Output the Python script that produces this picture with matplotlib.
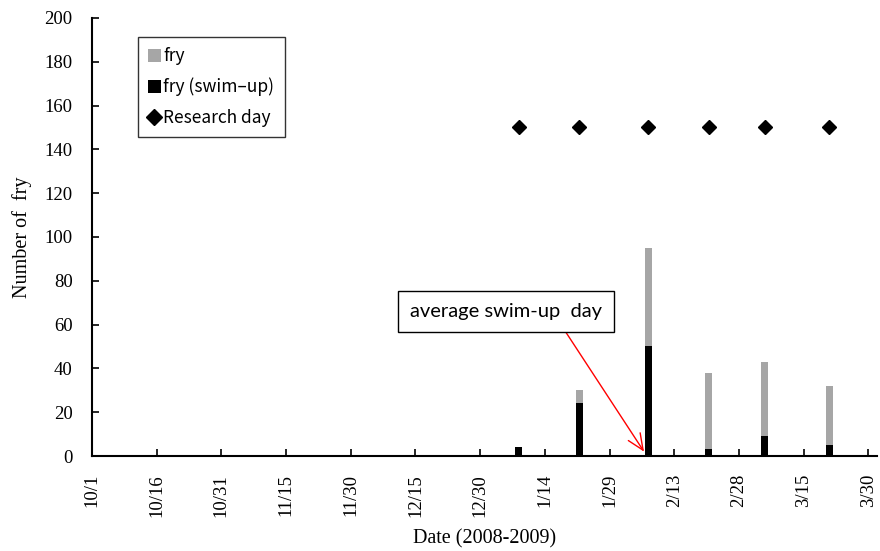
import numpy as np
import matplotlib
matplotlib.use("Agg")
import matplotlib.pyplot as plt
from matplotlib.lines import Line2D
from matplotlib.patches import Patch
import datetime as dt

# research days and counts
days = ["2009-01-08", "2009-01-22", "2009-02-07", "2009-02-21", "2009-03-06", "2009-03-21"]
swimup = [4, 24, 50, 3, 9, 5]
fry = [0, 6, 45, 35, 34, 27]
research = [150, 150, 150, 150, 150, 150]
tick_labels = ["10/1", "10/16", "10/31", "11/15", "11/30", "12/15", "12/30",
               "1/14", "1/29", "2/13", "2/28", "3/15", "3/30"]
arrow_day = "2009-02-06"

x = [dt.datetime.strptime(d, "%Y-%m-%d") for d in days]
start = dt.datetime(2008, 10, 1)
ticks = [start + dt.timedelta(days=15 * i) for i in range(len(tick_labels))]

serif = "Liberation Serif"
fig = plt.figure(figsize=(8.8, 5.51), dpi=100)
ax = fig.add_axes([0.1045, 0.1724, 0.892, 0.795])

w = 1.6
ax.bar(x, swimup, width=w, color="black", zorder=3)
ax.bar(x, fry, width=w, bottom=swimup, color="#a6a6a6", zorder=3)
ax.plot(x, research, "D", color="black", markersize=7.5, linestyle="None", zorder=4)

ax.set_xlim(start, start + dt.timedelta(days=182))
ax.set_ylim(0, 200)
ax.set_yticks(np.arange(0, 201, 20))
ax.set_xticks(ticks)
ax.set_xticklabels(tick_labels, rotation=90, fontfamily=serif, fontsize=13.5)
for lab in ax.get_yticklabels():
    lab.set_fontfamily(serif)
    lab.set_fontsize(13.5)
ax.tick_params(direction="in", length=5, width=1.2, colors="black")
ax.tick_params(axis="x", pad=13)
ax.tick_params(axis="y", pad=14)
for s in ["top", "right"]:
    ax.spines[s].set_visible(False)
for s in ["left", "bottom"]:
    ax.spines[s].set_linewidth(1.5)

ax.set_ylabel("Number of  fry", fontfamily=serif, fontsize=14.5, labelpad=9)
ax.set_xlabel("Date (2008-2009)", fontfamily=serif, fontsize=14.5, labelpad=9)

handles = [Patch(facecolor="#a6a6a6", label="fry"),
           Patch(facecolor="black", label="fry (swim\u2013up)"),
           Line2D([], [], marker="D", color="black", linestyle="None", markersize=8, label="Research day")]
leg = ax.legend(handles=handles, loc="upper left", bbox_to_anchor=(0.0586, 0.957),
                frameon=True, fancybox=False, edgecolor="black", handlelength=0.7,
                handleheight=0.8, handletextpad=0.15, labelspacing=0.72, borderpad=0.6,
                borderaxespad=0,
                prop={"family": ["Noto Sans CJK JP", "DejaVu Sans"], "size": 12.5})
leg.get_frame().set_linewidth(1.0)

ax.annotate("average swim-up  day",
            xy=(dt.datetime.strptime(arrow_day, "%Y-%m-%d"), 2),
            xytext=(dt.datetime(2009, 1, 5), 66),
            ha="center", va="center", fontsize=14.5, fontfamily="Lato",
            bbox=dict(boxstyle="square,pad=0.6", fc="white", ec="black", lw=1),
            arrowprops=dict(arrowstyle="->,head_length=0.8,head_width=0.35", color="red",
                            lw=1, relpos=(0.77, 0), shrinkA=0, shrinkB=0),
            zorder=5)

fig.savefig("out.png", dpi=100)
